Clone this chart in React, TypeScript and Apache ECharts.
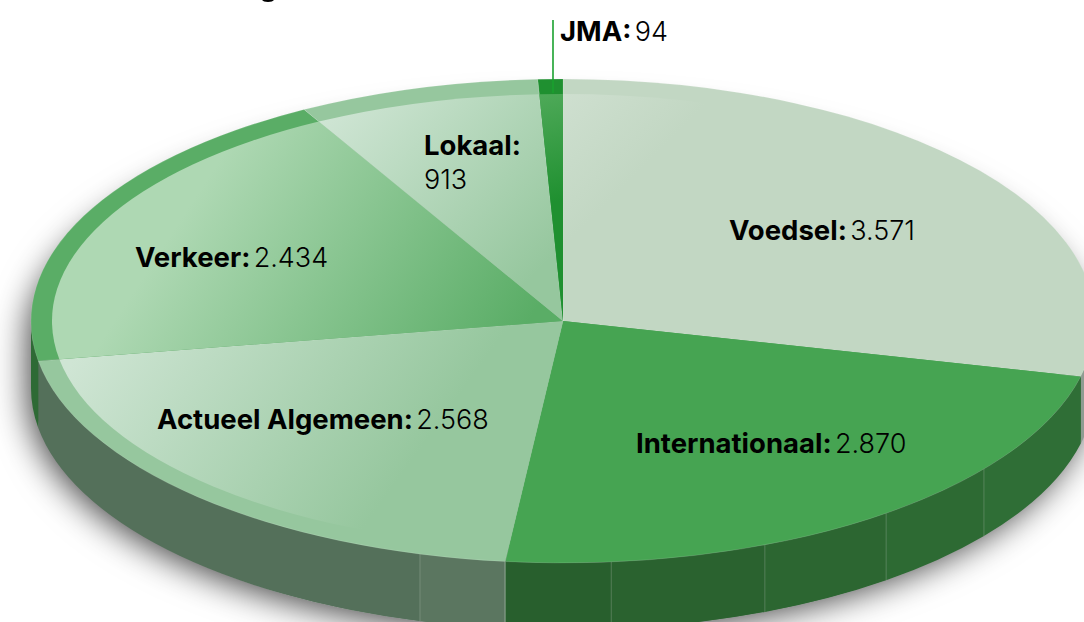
import React, { useEffect, useRef } from "react";
import * as echarts from "echarts";

const NAMES = ["Voedsel", "Internationaal", "Actueel Algemeen", "Verkeer", "Lokaal", "JMA"];
const VALUES = [3571, 2870, 2568, 2434, 913, 94];
const VALUE_LABELS = ["3.571", "2.870", "2.568", "2.434", "913", "94"];

const LABEL_X = [729, 636, 157, 135, 424, 560];
const LABEL_Y = [230, 443, 419, 257, 145, 31];
const RIM_COLORS = ["#c2d7c3", "#46a452", "#96c79e", "#5aad66", "#96c79e", "#1f9030"];
const GLOW_COLORS = ["#cedfcf", "#46a452", "#cfe5d4", "#aed8b3", "#cfe5d4", "#50aa5a"];
// gradient vectors of the highlight on each slice
const GLOW_VEC = [
  [565, 95, 640, 170],
  [510, 321, 700, 500],
  [70, 365, 340, 560],
  [200, 190, 490, 380],
  [330, 110, 520, 290],
  [538, 90, 563, 200],
];
const WALL_SHADES = [
  ["#8f9c92"],
  ["#2f6e36", "#2d6a33", "#2c6631", "#2a622f", "#285f2d"],
  ["#5b7660", "#54705a"],
  ["#2e6a35"],
  ["#2e6a35"],
  ["#2e6a35"],
];
const WALL_SEAMS = [127.7, 142.6, 157.7, 174.8, 195.6];

const CX = 563;
const CY = 321;
const RX = 532;
const RY = 242;
const IRX = 511;
const IRY = 227;
const DEPTH = 67;

const TOTAL = VALUES.reduce((a, b) => a + b, 0);

function bounds(): number[] {
  const out = [0];
  let s = 0;
  VALUES.forEach((v) => {
    s += v;
    out.push((s / TOTAL) * 360);
  });
  return out;
}
const BOUNDS = bounds();

function pt(deg: number, rx: number, ry: number, cy = CY): [number, number] {
  const a = (deg * Math.PI) / 180;
  return [CX + rx * Math.sin(a), cy - ry * Math.cos(a)];
}
// angle in the inner ellipse of the ray through the outer point at `deg`
function innerDeg(deg: number): number {
  const a = (deg * Math.PI) / 180;
  return (Math.atan2((RX * Math.sin(a)) / IRX, (RY * Math.cos(a)) / IRY) * 180) / Math.PI;
}
function sectorPath(a0: number, a1: number, rx: number, ry: number): string {
  const p0 = pt(a0, rx, ry);
  const p1 = pt(a1, rx, ry);
  const large = a1 - a0 > 180 ? 1 : 0;
  return `M${CX} ${CY}L${p0[0]} ${p0[1]}A${rx} ${ry} 0 ${large} 1 ${p1[0]} ${p1[1]}Z`;
}
function wallPath(a0: number, a1: number): string {
  const p0 = pt(a0, RX, RY);
  const p1 = pt(a1, RX, RY);
  const q1 = pt(a1, RX, RY, CY + DEPTH);
  const q0 = pt(a0, RX, RY, CY + DEPTH);
  return `M${p0[0]} ${p0[1]}A${RX} ${RY} 0 0 1 ${p1[0]} ${p1[1]}L${q1[0]} ${q1[1]}A${RX} ${RY} 0 0 0 ${q0[0]} ${q0[1]}Z`;
}
// lower part of the disc only, so the shadow caster never peeks out along the top edge
function shadowCaster(): string {
  const y = CY + 14;
  const ry = RY - 14;
  const l = [CX - RX + 2, y];
  const r = [CX + RX - 2, y];
  return `M${l[0]} ${l[1]}A${RX - 2} ${ry} 0 0 1 ${r[0]} ${r[1]}L${r[0]} ${r[1] + DEPTH - 14}A${RX - 2} ${RY} 0 0 1 ${l[0]} ${l[1] + DEPTH - 14}Z`;
}

function renderWall(params: any) {
  const i = params.dataIndex;
  const a0 = Math.max(BOUNDS[i], 90);
  const a1 = Math.min(BOUNDS[i + 1], 270);
  if (a1 <= a0) return { type: "group", children: [] };
  const cuts = [a0, ...WALL_SEAMS.filter((s) => s > a0 && s < a1), a1];
  const children: any[] = [];
  cuts.slice(0, -1).forEach((c, k) => {
    children.push({
      type: "path",
      shape: { pathData: wallPath(c, cuts[k + 1]) },
      style: { fill: WALL_SHADES[i][Math.min(k, WALL_SHADES[i].length - 1)] },
      silent: true,
    });
    if (k > 0 || i === 2) {
      const t = pt(c, RX, RY);
      const b = pt(c, RX, RY, CY + DEPTH);
      children.push({
        type: "line",
        shape: { x1: t[0], y1: t[1], x2: b[0], y2: b[1] },
        style: { stroke: k === 0 ? "rgba(255,255,255,0.4)" : "rgba(255,255,255,0.18)", lineWidth: 1 },
        silent: true,
      });
    }
  });
  return { type: "group", children };
}

function renderTop(params: any) {
  const i = params.dataIndex;
  const a0 = BOUNDS[i];
  const a1 = BOUNDS[i + 1];
  let ia0 = innerDeg(a0);
  let ia1 = innerDeg(a1);
  if (ia0 < 0) ia0 += 360;
  if (ia1 <= 0) ia1 += 360;
  const v = GLOW_VEC[i];
  return {
    type: "group",
    children: [
      {
        type: "path",
        shape: { pathData: sectorPath(a0, a1, RX, RY) },
        style: { fill: RIM_COLORS[i], stroke: "rgba(255,255,255,0.2)", lineWidth: 0.6 },
        silent: true,
      },
      {
        type: "path",
        shape: { pathData: sectorPath(ia0, ia1, IRX, IRY) },
        style: {
          fill: {
            type: "linear",
            global: true,
            x: v[0],
            y: v[1],
            x2: v[2],
            y2: v[3],
            colorStops: [
              { offset: 0, color: GLOW_COLORS[i] },
              { offset: 1, color: RIM_COLORS[i] },
            ],
          },
        },
        silent: true,
      },
    ],
  };
}

const bold = { fontFamily: "Inter", fontWeight: 700, fontSize: 27.5, fill: "#000", lineHeight: 34 };
const reg = { fontFamily: "Inter", fontWeight: 300, fontSize: 27, fill: "#000", lineHeight: 34 };

function labelGraphic() {
  const out: any[] = [];
  NAMES.forEach((n, i) => {
    const lokaal = n === "Lokaal";
    out.push({
      type: "text",
      x: LABEL_X[i],
      y: lokaal ? LABEL_Y[i] - 17 : LABEL_Y[i],
      z: 20,
      style: {
        text: `{b|${n}:}${lokaal ? "\n" : " "}{v|${VALUE_LABELS[i]}}`,
        verticalAlign: lokaal ? "top" : "middle",
        align: "left",
        rich: { b: bold, v: reg },
      },
    });
  });
  return out;
}

export default function App() {
  const ref = useRef<HTMLDivElement>(null);
  useEffect(() => {
    const chart = echarts.init(ref.current!, null, { renderer: "svg" });
    const data = VALUES.map((v, i) => ({ name: NAMES[i], value: v }));
    chart.setOption({
      animation: false,
      backgroundColor: "#fff",
      series: [
        {
          type: "custom",
          coordinateSystem: "none",
          z: 1,
          silent: true,
          data: [TOTAL],
          renderItem: () => ({
            type: "path",
            shape: { pathData: shadowCaster() },
            style: {
              fill: "#54705a",
              shadowBlur: 34,
              shadowColor: "rgba(0,0,0,0.75)",
              shadowOffsetX: -5,
              shadowOffsetY: 4,
            },
          }),
        },
        { type: "custom", coordinateSystem: "none", z: 2, silent: true, data, renderItem: renderWall },
        { type: "custom", coordinateSystem: "none", z: 3, silent: true, data, renderItem: renderTop },
      ],
      graphic: [
        {
          type: "line",
          z: 15,
          shape: { x1: 553, y1: 20, x2: 553, y2: 93 },
          style: { stroke: "#1aa12f", lineWidth: 1.6 },
        },
        {
          // the only visible remnant of the title above the crop: the tail of a "g"
          type: "ellipse",
          z: 20,
          shape: { cx: 268, cy: -0.5, rx: 6, ry: 2.5 },
          style: { fill: "#000" },
        },
        ...labelGraphic(),
      ],
    });
    return () => chart.dispose();
  }, []);
  return <div ref={ref} style={{ position: "fixed", left: 0, top: 0, width: 1084, height: 622 }} />;
}
